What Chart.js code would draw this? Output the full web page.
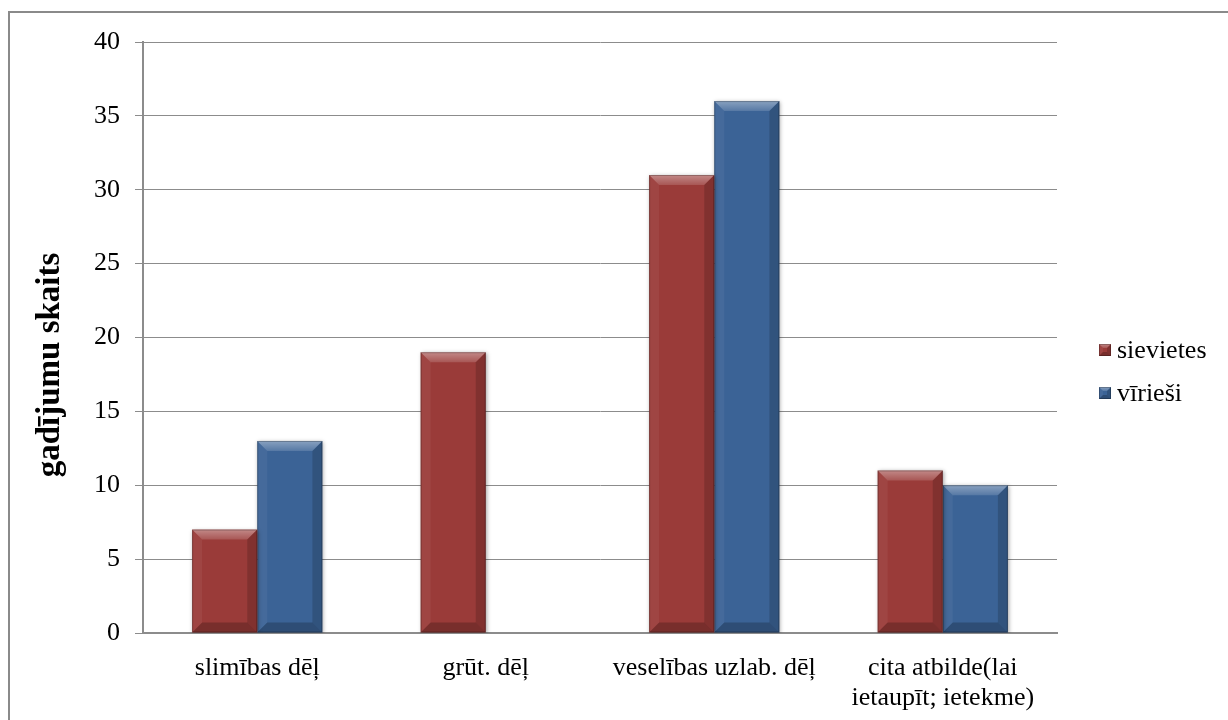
<!DOCTYPE html>
<html>
<head>
<meta charset="utf-8">
<script src="https://cdn.jsdelivr.net/npm/chart.js@4.4.1/dist/chart.umd.min.js"></script>
<style>
  html, body { margin: 0; padding: 0; background: #ffffff; overflow: hidden; }
  #frame { position: absolute; left: 8px; top: 11px; width: 1300px; height: 800px; border: 2px solid #8a8a8a; }
  #wrap { position: absolute; left: 0; top: 0; width: 1228px; height: 720px; }
</style>
</head>
<body>
<div id="frame"></div>
<div id="wrap"><canvas id="c" width="1228" height="720"></canvas></div>
<script>
// Categories and survey counts
const categories = [
  'slimības dēļ',
  'grūt. dēļ',
  'veselības uzlab. dēļ',
  ['cita atbilde(lai', 'ietaupīt; ietekme)']
];
const seriesNames = ['sievietes', 'vīrieši'];
const sievietes = [7, 19, 31, 11];
const viriesi = [13, 0, 36, 10];
const yTicks = [0, 5, 10, 15, 20, 25, 30, 35, 40];
const yTitle = 'gadījumu skaits';

const RED = '#9a3b39';
const BLUE = '#3b6396';
const GRID = '#8c8c8c';
const FONT = "'Liberation Serif', 'Times New Roman', serif";

function path(ctx, pts) {
  ctx.beginPath();
  ctx.moveTo(pts[0][0], pts[0][1]);
  for (let i = 1; i < pts.length; i++) ctx.lineTo(pts[i][0], pts[i][1]);
  ctx.closePath();
}

// Beveled look for a rectangle: light top facet, shaded right/bottom facets
function bevel(ctx, l, t, r, b, size) {
  const s = Math.min(size, (r - l) / 3, (b - t) / 3);
  if (s <= 0.5) return;
  const gTop = ctx.createLinearGradient(0, t, 0, t + s);
  gTop.addColorStop(0, 'rgba(255,255,255,0.40)');
  gTop.addColorStop(1, 'rgba(255,255,255,0.14)');
  ctx.fillStyle = gTop;
  path(ctx, [[l, t], [r, t], [r - s, t + s], [l + s, t + s]]);
  ctx.fill();
  ctx.fillStyle = 'rgba(255,255,255,0.05)';
  path(ctx, [[l, t], [l + s, t + s], [l + s, b - s], [l, b]]);
  ctx.fill();
  ctx.fillStyle = 'rgba(0,0,0,0.16)';
  path(ctx, [[r, t], [r, b], [r - s, b - s], [r - s, t + s]]);
  ctx.fill();
  ctx.fillStyle = 'rgba(0,0,0,0.22)';
  path(ctx, [[l, b], [r, b], [r - s, b - s], [l + s, b - s]]);
  ctx.fill();
  ctx.strokeStyle = 'rgba(0,0,0,0.25)';
  ctx.lineWidth = 1;
  ctx.strokeRect(l + 0.5, t + 0.5, r - l - 1, b - t - 1);
}

const bevelPlugin = {
  id: 'bevelBars',
  beforeDatasetDraw(chart) {
    const ctx = chart.ctx;
    ctx.save();
    ctx.shadowColor = 'rgba(0,0,0,0.35)';
    ctx.shadowBlur = 4;
    ctx.shadowOffsetX = 1;
    ctx.shadowOffsetY = 1;
  },
  afterDatasetDraw(chart, args) {
    const ctx = chart.ctx;
    ctx.restore();
    ctx.save();
    args.meta.data.forEach(el => {
      const p = el.getProps(['x', 'y', 'base', 'width'], true);
      const l = p.x - p.width / 2, r = p.x + p.width / 2;
      const t = Math.min(p.y, p.base), b = Math.max(p.y, p.base);
      if (b - t < 1) return;
      bevel(ctx, l, t, r, b, 10);
    });
    ctx.restore();
  }
};

// Legend to the right of the plot and the rotated value-axis title
const sideText = {
  id: 'sideText',
  afterDraw(chart) {
    const ctx = chart.ctx;
    const x = chart.chartArea.right + 42;
    const y0 = 350;
    const step = 43;
    ctx.save();
    ctx.font = '26px ' + FONT;
    ctx.textBaseline = 'middle';
    chart.data.datasets.forEach((ds, i) => {
      const y = y0 + i * step;
      ctx.fillStyle = ds.backgroundColor;
      ctx.fillRect(x, y - 6, 12, 12);
      bevel(ctx, x, y - 6, x + 12, y + 6, 4);
      ctx.fillStyle = '#000000';
      ctx.fillText(ds.label, x + 18, y + 1);
    });
    ctx.restore();

    ctx.save();
    ctx.translate(50, 365);
    ctx.rotate(-Math.PI / 2);
    ctx.font = 'bold 33px ' + FONT;
    ctx.textAlign = 'center';
    ctx.textBaseline = 'middle';
    ctx.fillStyle = '#000000';
    ctx.fillText(yTitle, 0, 0);
    ctx.restore();
  }
};

new Chart(document.getElementById('c'), {
  type: 'bar',
  data: {
    labels: categories,
    datasets: [
      { label: seriesNames[0], data: sievietes, backgroundColor: RED, borderWidth: 0 },
      { label: seriesNames[1], data: viriesi, backgroundColor: BLUE, borderWidth: 0 }
    ]
  },
  options: {
    responsive: false,
    animation: false,
    events: [],
    layout: { padding: { left: 86, right: 171, top: 42, bottom: 0 } },
    datasets: { bar: { categoryPercentage: 0.57, barPercentage: 1.0 } },
    plugins: { legend: { display: false }, tooltip: { enabled: false } },
    scales: {
      x: {
        grid: { display: false },
        border: { display: true, color: GRID, width: 2 },
        ticks: { color: '#000000', font: { family: FONT, size: 26, lineHeight: 1.15 }, padding: 12, maxRotation: 0, autoSkip: false },
        afterFit(s) { s.height = 87; }
      },
      y: {
        min: 0,
        max: 40,
        afterBuildTicks(s) { s.ticks = yTicks.map(v => ({ value: v })); },
        grid: { color: GRID, lineWidth: 1, tickLength: 8, drawTicks: true },
        border: { display: true, color: GRID, width: 2 },
        ticks: { color: '#000000', font: { family: FONT, size: 26 }, padding: 15 },
        afterFit(s) { s.width = 57; }
      }
    }
  },
  plugins: [bevelPlugin, sideText]
});
</script>
</body>
</html>
